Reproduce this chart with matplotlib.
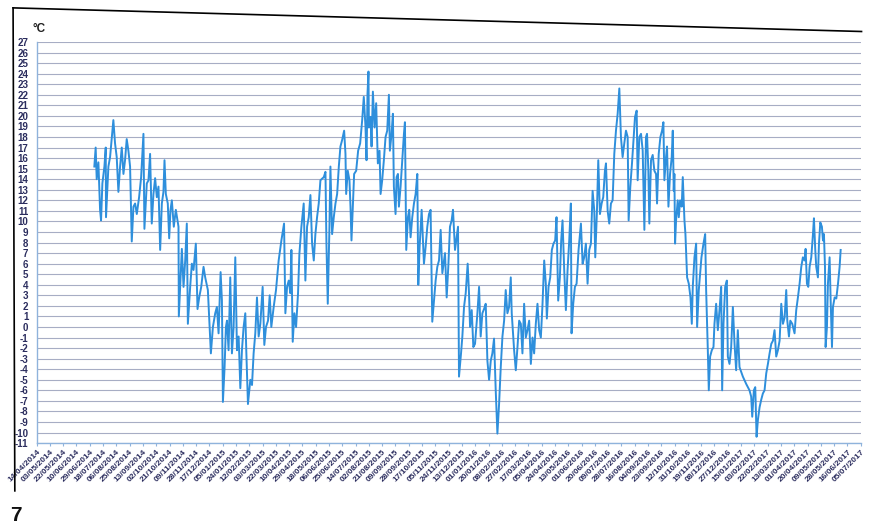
import pandas as pd
import matplotlib
matplotlib.use("Agg")
import matplotlib.pyplot as plt
import matplotlib.dates as mdates
from matplotlib.lines import Line2D

plt.rcParams["font.family"] = ["Liberation Sans", "DejaVu Sans"]

# --- Daily temperature readings (turning points) ---
start_date = "2014-04-14"
days_since_start = [
    82.5, 84.4, 85.9, 88.3, 90.7, 92.1, 94.0, 96.9, 98.8, 99.2, 102.6, 105.0, 109.7, 112.1,
    114.5, 116.9, 119.3, 121.7, 124.1, 126.4, 128.8, 131.2, 133.6, 136.0, 138.4, 140.8,
    143.2, 146.5, 149.4, 152.7, 154.1, 157.5, 159.9, 162.2, 164.6, 167.0, 169.4, 171.8,
    174.2, 176.6, 179.0, 181.3, 182.8, 184.7, 187.5, 189.5, 191.4, 193.3, 196.1, 199.0,
    202.8, 203.3, 205.2, 207.6, 210.0, 212.4, 214.7, 216.2, 219.5, 221.9, 224.3, 227.6,
    230.0, 232.4, 235.3, 238.6, 241.0, 244.8, 249.1, 252.0, 255.3, 257.7, 260.1, 263.0,
    264.9, 266.3, 268.7, 270.6, 272.1, 274.4, 276.8, 279.2, 281.6, 284.0, 286.4, 288.8,
    291.2, 293.5, 295.9, 298.3, 299.7, 302.1, 305.5, 307.9, 310.2, 312.6, 315.0, 317.4,
    319.8, 323.1, 325.5, 327.9, 330.8, 333.2, 335.5, 338.9, 342.2, 346.0, 349.9, 353.7,
    355.6, 358.0, 360.4, 362.7, 364.2, 366.1, 368.5, 370.9, 373.7, 375.6, 378.5, 381.8,
    384.2, 386.6, 389.0, 391.4, 393.8, 396.2, 398.5, 400.9, 403.3, 405.7, 410.5, 412.9,
    414.3, 416.2, 418.6, 420.0, 422.4, 424.8, 427.2, 429.6, 432.0, 434.3, 436.7, 439.6,
    441.5, 442.5, 444.8, 447.2, 448.7, 450.1, 452.0, 453.9, 456.8, 459.6, 462.5, 465.4,
    467.7, 470.1, 471.6, 473.0, 474.4, 475.0, 477.3, 478.8, 480.7, 483.1, 485.4, 487.8,
    490.2, 491.7, 494.0, 496.4, 498.8, 501.2, 503.6, 505.0, 507.4, 509.3, 510.7, 513.1,
    514.6, 516.5, 517.9, 520.3, 522.7, 525.1, 526.5, 528.4, 530.8, 532.7, 534.6, 537.0,
    539.4, 541.8, 544.2, 545.6, 547.5, 550.4, 553.7, 556.1, 558.5, 560.9, 563.2, 565.6,
    568.0, 570.4, 572.8, 575.2, 577.6, 580.0, 583.8, 586.2, 588.5, 590.9, 593.3, 595.2,
    598.1, 600.5, 602.4, 603.8, 606.7, 608.6, 611.0, 613.4, 616.2, 618.1, 619.6, 622.0,
    624.3, 626.7, 630.1, 632.5, 634.8, 637.2, 639.6, 642.0, 644.4, 646.8, 649.2, 651.5,
    653.9, 656.3, 658.7, 661.1, 663.5, 665.9, 668.3, 670.6, 673.0, 675.4, 677.8, 679.2,
    682.6, 685.0, 687.4, 689.8, 692.2, 694.5, 696.9, 699.3, 701.7, 704.1, 706.5, 708.9,
    711.2, 713.6, 716.0, 718.4, 720.8, 723.2, 725.6, 727.9, 729.4, 731.8, 734.2, 736.5,
    738.9, 741.3, 743.2, 745.6, 748.0, 749.9, 751.8, 754.2, 756.6, 759.0, 761.4, 763.7,
    764.7, 767.1, 769.5, 771.9, 774.7, 778.1, 780.5, 782.8, 785.2, 787.6, 790.0, 792.4,
    794.8, 797.2, 798.6, 801.0, 802.9, 805.3, 807.7, 810.0, 812.4, 813.9, 816.3, 818.6,
    821.0, 823.4, 825.8, 828.2, 830.6, 833.0, 835.3, 837.7, 840.1, 842.5, 844.9, 846.3,
    848.7, 851.1, 853.5, 855.4, 857.8, 859.2, 861.6, 864.0, 866.4, 868.8, 871.1, 872.6,
    874.5, 875.9, 878.3, 880.7, 883.1, 885.5, 886.9, 889.3, 891.7, 894.1, 896.0, 897.4,
    899.8, 901.2, 903.2, 905.5, 907.9, 909.4, 910.8, 911.7, 912.7, 914.1, 916.5, 918.0,
    919.9, 922.2, 923.7, 926.1, 927.5, 929.9, 932.3, 934.7, 936.6, 938.0, 940.4, 942.8,
    944.2, 946.6, 948.5, 950.4, 953.3, 955.7, 957.1, 959.5, 960.9, 962.8, 965.2, 967.6,
    969.0, 971.4, 973.8, 976.2, 978.6, 980.0, 981.9, 984.3, 986.7, 988.1, 990.5, 992.9,
    995.3, 997.7, 1000.0, 1002.4, 1004.8, 1009.6, 1014.4, 1019.1, 1021.5, 1023.0, 1025.3,
    1027.3, 1029.2, 1031.1, 1033.5, 1035.8, 1038.2, 1040.6, 1043.0, 1045.4, 1047.8,
    1050.2, 1052.6, 1054.9, 1057.3, 1059.7, 1062.1, 1064.5, 1066.9, 1069.3, 1071.6,
    1073.1, 1075.5, 1077.4, 1080.2, 1083.5, 1085.9, 1088.3, 1090.7, 1093.1, 1095.4,
    1097.8, 1099.3, 1101.2, 1103.1, 1105.0, 1107.4, 1109.8, 1111.2, 1113.1, 1114.5,
    1116.9, 1118.4, 1120.3, 1122.6, 1124.1, 1125.5, 1127.0, 1127.9, 1129.8, 1131.2,
    1133.6, 1135.1, 1137.0, 1138.4, 1140.8, 1143.2, 1145.6, 1147.9, 1149.4,
]
temperature_c = [
    15.2, 17.0, 14.0, 15.6, 11.1, 10.1, 13.6, 15.2, 17.0, 10.4, 15.2, 16.1, 19.6, 17.4,
    16.1, 12.8, 15.2, 17.0, 14.5, 15.8, 17.8, 16.7, 15.2, 8.1, 11.4, 11.7,
    10.7, 12.3, 14.2, 18.3, 9.3, 13.6, 13.9, 16.4, 9.8, 12.6, 14.1, 12.3,
    13.3, 7.3, 11.7, 12.8, 15.8, 12.6, 11.7, 8.4, 11.1, 12.0, 9.5, 11.1,
    9.5, 1.0, 3.8, 7.4, 3.8, 6.3, 9.8, 0.3, 3.8, 6.0, 5.4, 7.9,
    1.7, 2.8, 3.8, 5.7, 4.7, 3.5, -2.5, 0.0, 1.3, 1.9, -0.6, 5.2,
    2.5, -7.1, -3.8, 0.0, 0.6, -2.2, 4.7, -2.5, 0.0, 6.6, -2.2, -0.9,
    -5.8, -2.2, 0.0, 1.3, -2.2, -7.3, -5.0, -5.5, -2.5, -0.6, 2.8, -0.9,
    0.3, 3.8, -1.7, 0.0, 0.6, 3.0, 0.0, 1.9, 3.5, 6.3, 8.2, 9.8,
    1.3, 3.8, 4.4, 3.2, 7.3, -1.4, 1.3, 0.0, 3.2, 6.9, 9.5, 11.7,
    4.4, 9.5, 10.4, 12.5, 7.9, 6.3, 8.8, 10.4, 11.7, 13.9, 14.2, 14.7,
    7.9, 2.2, 9.5, 15.2, 8.8, 10.4, 11.7, 12.6, 15.2, 17.1, 17.7, 18.6,
    16.4, 12.6, 14.8, 13.9, 11.4, 8.2, 11.4, 14.5, 14.8, 16.7, 17.4, 19.6,
    21.8, 19.0, 15.8, 22.1, 24.2, 18.9, 19.9, 17.1, 22.3, 18.9, 21.2, 15.5,
    16.7, 12.6, 13.9, 15.8, 18.0, 18.6, 22.0, 16.7, 18.3, 20.2, 13.3, 10.7,
    14.2, 14.5, 11.4, 13.3, 15.8, 18.3, 19.4, 7.3, 10.4, 11.1, 8.5, 10.4,
    11.7, 12.6, 14.5, 4.0, 7.6, 11.1, 6.0, 7.6, 9.5, 10.7, 11.1, 0.5,
    2.5, 4.4, 5.7, 6.3, 9.2, 5.1, 7.0, 2.8, 5.7, 9.5, 10.1, 11.1,
    7.3, 8.5, 9.5, -4.7, -2.5, -0.9, 1.9, 3.2, 6.0, 3.2, 0.0, 1.6,
    -1.9, -1.6, 1.3, 3.8, -0.9, 1.3, 1.7, 2.2, -3.2, -5.0, -3.2, -2.5,
    -1.1, -6.0, -10.1, -7.3, -3.8, -0.9, 0.6, 3.5, 1.3, 1.9, 4.7, 1.3,
    -2.2, -4.1, -1.9, 0.6, 0.3, -2.5, 2.2, -1.0, -0.3, 0.6, -3.5, -1.0,
    -2.5, 0.3, 2.2, -0.3, -1.0, 2.2, 6.3, 4.1, 0.8, 3.8, 4.7, 7.3,
    7.9, 8.2, 10.4, 2.5, 4.7, 8.2, 10.1, 5.4, 1.6, 5.4, 8.2, 11.7,
    -0.6, 2.2, 3.8, 4.1, 7.3, 9.8, 6.0, 6.6, 7.9, 4.1, 7.3, 7.9,
    12.9, 11.0, 6.6, 11.0, 15.8, 10.7, 11.7, 12.3, 14.8, 15.5, 11.0, 9.8,
    11.7, 12.0, 16.4, 18.6, 20.2, 22.6, 18.0, 16.1, 17.4, 18.6, 18.0, 10.1,
    13.3, 15.5, 18.0, 19.9, 20.5, 13.9, 18.0, 18.3, 16.7, 9.2, 18.0, 18.3,
    14.8, 9.8, 15.8, 16.3, 14.8, 14.5, 11.7, 16.4, 18.0, 18.6, 19.4, 13.9,
    16.1, 17.1, 11.4, 14.5, 16.1, 18.6, 12.9, 14.5, 7.9, 10.1, 12.0, 10.4,
    12.0, 11.4, 14.2, 10.1, 8.8, 4.7, 4.1, 2.8, 0.3, 3.8, 6.6, 7.9,
    0.0, 3.5, 5.1, 6.6, 7.9, 8.8, 3.5, -2.2, -6.0, -2.8, -2.2, -1.9,
    0.3, 2.2, -0.3, 1.6, 3.8, -6.0, 0.3, 3.8, 4.4, -2.8, -3.5, -1.9,
    1.9, -1.6, -4.1, -0.3, -3.8, -4.7, -5.4, -6.0, -6.6, -8.5, -6.0,
    -5.7, -10.4, -8.8, -7.6, -6.9, -6.3, -6.0, -4.4, -3.5, -2.5,
    -1.6, -1.3, -0.3, -2.8, -2.2, -1.3, 2.2, 0.3, 0.9, 3.5,
    0.6, -0.9, 0.6, 0.3, -0.6, 1.6, 2.8, 4.1, 5.7, 6.6,
    6.3, 7.4, 4.1, 3.8, 5.7, 6.6, 8.8, 10.3, 7.3, 5.7,
    4.7, 7.9, 9.9, 9.5, 8.2, 8.8, 5.7, -1.9, 0.0, 4.1,
    6.6, 2.5, -1.9, 1.9, 2.8, 2.7, 4.1, 5.7, 7.3,
]

# --- Axis settings ---
tick_step_days = 19
n_ticks = 63
y_ticks = list(range(-11, 28))

dates = pd.to_datetime(start_date) + pd.to_timedelta(days_since_start, unit="D")
tick_dates = pd.date_range(start_date, periods=n_ticks, freq=f"{tick_step_days}D")

fig = plt.figure(figsize=(8.72, 5.25), dpi=100)
ax = fig.add_axes([0.042, 0.156, 0.945, 0.764])

ax.plot(dates, temperature_c, color="#2e8fdc", linewidth=1.4)

ax.set_ylim(-11, 27)
ax.set_xlim(tick_dates[0], tick_dates[-1])
ax.set_yticks(y_ticks)
ax.set_yticklabels([str(v) for v in y_ticks], fontsize=7, fontweight="bold",
                   color="#2b2d5e")
ax.set_xticks(tick_dates)
ax.xaxis.set_major_formatter(mdates.DateFormatter("%d/%m/%Y"))
plt.setp(ax.get_xticklabels(), rotation=45, ha="right", rotation_mode="anchor",
         fontsize=6, fontweight="bold", color="#2b2d5e")

ax.grid(True, axis="y", color="#a7adc4", linewidth=0.8)
ax.set_axisbelow(True)
for side in ["top", "right"]:
    ax.spines[side].set_visible(False)
for side in ["left", "bottom"]:
    ax.spines[side].set_color("#8fb3dc")
    ax.spines[side].set_linewidth(1.0)
ax.tick_params(axis="x", length=2, color="#8fb3dc", pad=2)
ax.tick_params(axis="y", length=0, pad=6)

# --- Page frame, unit label and figure number ---
fig.add_artist(Line2D([0.015, 0.988], [0.985, 0.94], color="black", linewidth=1.2,
                      transform=fig.transFigure))
fig.add_artist(Line2D([0.015, 0.017], [0.985, 0.065], color="black", linewidth=1.2,
                      transform=fig.transFigure))
fig.text(0.037, 0.94, "°C", fontsize=8.5, fontweight="bold", color="#222222")
fig.text(0.012, 0.008, "7", fontsize=15, fontweight="bold", color="#111111")

fig.savefig("out.png", dpi=100)
plt.close(fig)
